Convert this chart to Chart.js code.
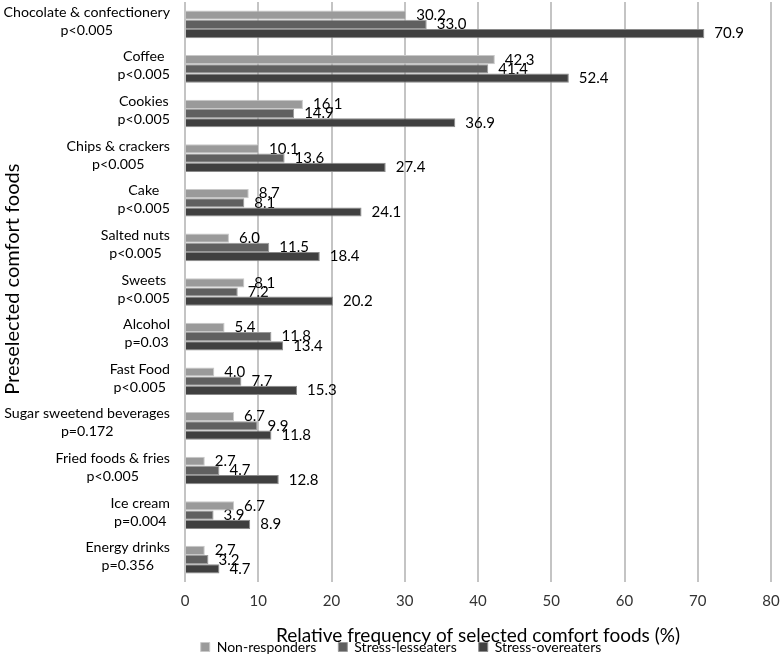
<!DOCTYPE html>
<html>
<head>
<meta charset="utf-8">
<script src="https://cdn.jsdelivr.net/npm/chart.js@4.4.1/dist/chart.umd.min.js"></script>
<style>
  html, body { margin: 0; padding: 0; background: #fff; }
  #wrap { width: 780px; height: 654px; }
</style>
</head>
<body>
<div id="wrap"><canvas id="chartFoods"></canvas></div>
<script>
const foods = [
  ["Chocolate & confectionery", "p<0.005"],
  ["Coffee", "p<0.005"],
  ["Cookies", "p<0.005"],
  ["Chips & crackers", "p<0.005"],
  ["Cake", "p<0.005"],
  ["Salted nuts", "p<0.005"],
  ["Sweets", "p<0.005"],
  ["Alcohol", "p=0.03"],
  ["Fast Food", "p<0.005"],
  ["Sugar sweetend beverages", "p=0.172"],
  ["Fried foods & fries", "p<0.005"],
  ["Ice cream", "p=0.004"],
  ["Energy drinks", "p=0.356"],
];
const nonResponders = [30.2, 42.3, 16.1, 10.1, 8.7, 6.0, 8.1, 5.4, 4.0, 6.7, 2.7, 6.7, 2.7];
const lessEaters = [33.0, 41.4, 14.9, 13.6, 8.1, 11.5, 7.2, 11.8, 7.7, 9.9, 4.7, 3.9, 3.2];
const overEaters = [70.9, 52.4, 36.9, 27.4, 24.1, 18.4, 20.2, 13.4, 15.3, 11.8, 12.8, 8.9, 4.7];
const xTicks = [0, 10, 20, 30, 40, 50, 60, 70, 80];

const FONT = "Lato";
const LEFT_PAD = 31; // pushes the legend a bit to the right, y box shrinks by the same

// food names, each line centred inside its own block, block set close to the axis
const foodLabels = {
  id: "foodLabels",
  afterDraw(chart) {
    const c = chart.ctx;
    const y = chart.scales.y;
    c.save();
    c.font = "14.2px " + FONT;
    c.fillStyle = "#000";
    c.textAlign = "center";
    c.textBaseline = "middle";
    chart.data.labels.forEach((lines, i) => {
      const w = Math.max(...lines.map((l) => c.measureText(l).width));
      const cx = chart.chartArea.left - 15 - w / 2;
      const cy = y.getPixelForValue(i) - 3;
      lines.forEach((l, k) => {
        c.fillText(l, cx, cy + (k - (lines.length - 1) / 2) * 18);
      });
    });
    c.restore();
  },
};

// values at the bar ends, drawn under the bars like in the original
const valueLabels = {
  id: "valueLabels",
  beforeDatasetsDraw(chart) {
    const c = chart.ctx;
    c.save();
    c.font = "15px " + FONT;
    c.fillStyle = "#000";
    c.textAlign = "left";
    c.textBaseline = "middle";
    chart.data.datasets.forEach((ds, i) => {
      const meta = chart.getDatasetMeta(i);
      meta.data.forEach((bar, j) => {
        c.fillText(ds.data[j].toFixed(1), bar.x + 10, bar.y);
      });
    });
    c.restore();
  },
};

const ctx = document.getElementById("chartFoods").getContext("2d");
new Chart(ctx, {
  type: "bar",
  data: {
    labels: foods,
    datasets: [
      {
        label: "Non-responders",
        data: nonResponders,
        backgroundColor: "#9a9a9a",
        borderColor: "#c8c8c8",
        borderWidth: 1,
      },
      {
        label: "Stress-lesseaters",
        data: lessEaters,
        backgroundColor: "#606060",
        borderColor: "#9a9a9a",
        borderWidth: 1,
      },
      {
        label: "Stress-overeaters",
        data: overEaters,
        backgroundColor: "#404040",
        borderColor: "#8a8a8a",
        borderWidth: 1,
      },
    ],
  },
  options: {
    indexAxis: "y",
    responsive: true,
    maintainAspectRatio: false,
    animation: false,
    categoryPercentage: 0.62,
    barPercentage: 1.0,
    layout: { padding: { top: 2, right: 9, left: LEFT_PAD, bottom: 0 } },
    plugins: {
      tooltip: { enabled: false },
      legend: {
        position: "bottom",
        maxHeight: 36,
        labels: {
          boxWidth: 9,
          boxHeight: 9,
          padding: 22,
          color: "#000",
          font: { family: FONT, size: 14 },
        },
      },
    },
    scales: {
      x: {
        min: 0,
        max: 80,
        afterBuildTicks(scale) {
          scale.ticks = xTicks.map((v) => ({ value: v }));
        },
        afterFit(scale) {
          scale.height = 36;
          scale.paddingRight = 0;
          scale.paddingLeft = 0;
        },
        grid: { color: "#c4c4c4", lineWidth: 2, drawTicks: false },
        border: { display: false },
        ticks: {
          padding: 10,
          color: "#333",
          font: { family: FONT, size: 15 },
        },
        title: {
          display: true,
          text: "Relative frequency of selected comfort foods (%)",
          color: "#000",
          padding: { top: 0, bottom: -29 },
          font: { family: FONT, size: 19 },
        },
      },
      y: {
        grid: { display: false },
        border: { display: false },
        ticks: { display: false },
        afterFit(scale) {
          scale.width = 185 - LEFT_PAD;
        },
        title: {
          display: true,
          text: "     Preselected comfort foods",
          color: "#000",
          padding: { top: 1 - LEFT_PAD, bottom: 0 },
          font: { family: FONT, size: 20 },
        },
      },
    },
  },
  plugins: [foodLabels, valueLabels],
});
</script>
</body>
</html>
